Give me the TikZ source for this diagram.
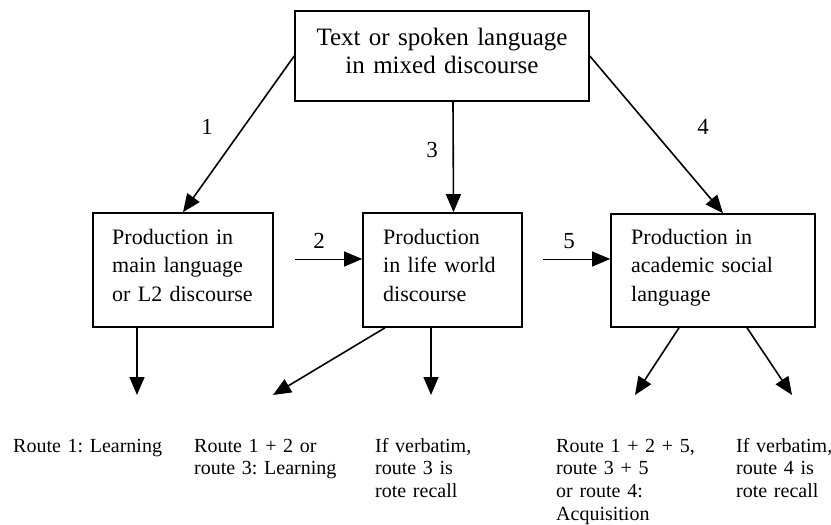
\documentclass[tikz,border=0pt]{standalone}
\usepackage{fontspec}
\setmainfont{Liberation Serif}
\usetikzlibrary{arrows.meta,calc}
\frenchspacing
\begin{document}
\begin{tikzpicture}[x=1pt,y=-1pt,
  box/.style={draw, line width=1.6pt, inner sep=0pt},
  boxtext/.style={inner sep=0pt, anchor=base west, text width=190pt, align=left,
    font=\fontsize{22}{28.5}\selectfont},
  toptext/.style={inner sep=0pt, anchor=base, text width=280pt, align=center,
    font=\fontsize{25}{28.5}\selectfont},
  outtext/.style={inner sep=0pt, anchor=base west, text width=170pt, align=left,
    font=\fontsize{20}{22.7}\selectfont},
  num/.style={inner sep=0pt, anchor=base, font=\fontsize{23}{23}\selectfont},
  arr/.style={line width=1.6pt, -{Triangle[length=18pt,width=15pt]}},
  thinarr/.style={line width=1pt, -{Triangle[length=18pt,width=15pt]}}]
\useasboundingbox (0,0) rectangle (831,525);

% boxes
\node[box, minimum width=294pt, minimum height=90pt] (top) at (442,56) {};
\node[box, minimum width=180pt, minimum height=114pt] (b1) at (183,270) {};
\node[box, minimum width=159pt, minimum height=114pt] (b2) at (442.5,270) {};
\node[box, minimum width=204pt, minimum height=113pt] (b3) at (713,270.5) {};

% box texts
\node[toptext] (ttop) at (442,45) {Text or spoken language\\in mixed discourse};
\node[boxtext] (tb1) at (112,244) {Production in\\main language\\or L2 discourse};
\node[boxtext] (tb2) at (383,244) {Production\\in life world\\discourse};
\node[boxtext] (tb3) at (631,244) {Production in\\academic social\\language};

% route labels
\node[num] (n1) at (207,134) {1};
\node[num] (n2) at (319,248) {2};
\node[num] (n3) at (432,157) {3};
\node[num] (n4) at (703,134) {4};
\node[num] (n5) at (569,248) {5};

% arrows from top
\draw[arr] (top.west) -- (b1.north);
\draw[arr] ([xshift=11pt]top.south) -- ([xshift=11pt]b2.north);
\draw[arr] (top.east) -- ([xshift=10pt]b3.north);

% horizontal arrows
\coordinate (c2) at (295,259);
\coordinate (c5) at (543,259);
\draw[thinarr] (c2) -- (c2 -| b2.west);
\draw[thinarr] (c5) -- (c5 -| b3.west);

% outcome arrows
\coordinate (d1) at (137,395);
\coordinate (d2) at (273,395);
\coordinate (d3) at (431,395);
\coordinate (d4) at (635,395);
\coordinate (d5) at (792,395);
\draw[arr] (d1 |- b1.south) -- (d1);
\draw[arr] ([xshift=-57.5pt]b2.south) -- (d2);
\draw[arr] (d3 |- b2.south) -- (d3);
\draw[arr] ([xshift=-34pt]b3.south) -- (d4);
\draw[arr] ([xshift=34pt]b3.south) -- (d5);

% outcome texts
\node[outtext] (o1) at (13,452) {Route 1: Learning};
\node[outtext] (o2) at (194,452) {Route 1 + 2 or\\route 3: Learning};
\node[outtext] (o3) at (375,452) {If verbatim,\\route 3 is\\rote recall};
\node[outtext] (o4) at (556,452) {Route 1 + 2 + 5,\\route 3 + 5\\or route 4:\\Acquisition};
\node[outtext] (o5) at (736,452) {If verbatim,\\route 4 is\\rote recall};
\end{tikzpicture}
\end{document}
